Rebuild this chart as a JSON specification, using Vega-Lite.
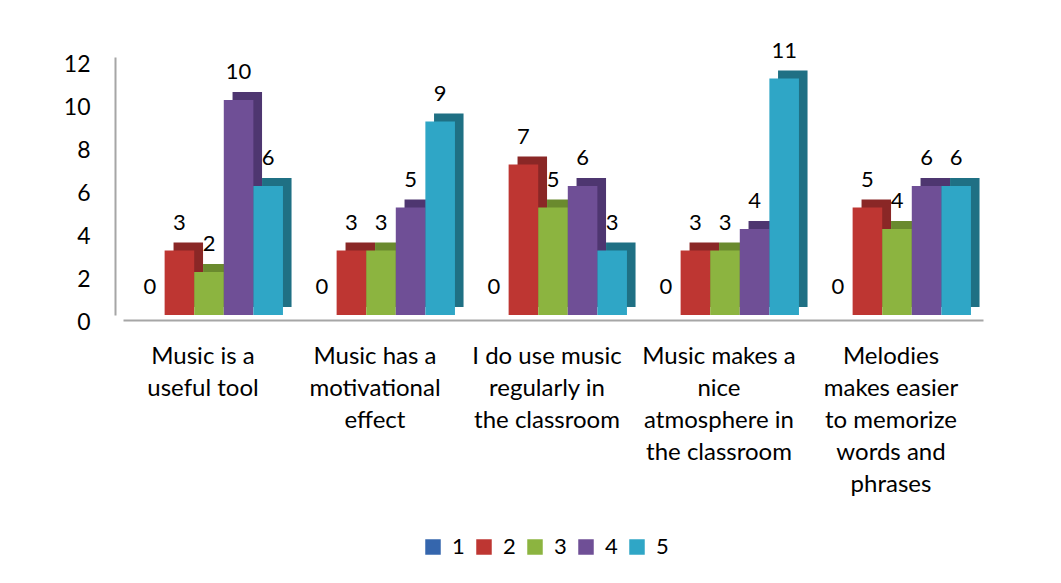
{
  "$schema": "https://vega.github.io/schema/vega-lite/v6.json",
  "autosize": "none",
  "width": 860,
  "height": 258,
  "padding": {"left": 123, "top": 57, "right": 78, "bottom": 268},
  "background": "white",
  "config": {
    "view": {"stroke": null},
    "font": "Lato",
    "axis": {"labelFont": "Lato", "labelColor": "black", "grid": false, "ticks": false, "domainColor": "#A6A6A6", "domainWidth": 2}
  },
  "data": {
    "values": [
      {"cat": "Music is a|useful tool", "series": "1", "value": 0},
      {"cat": "Music is a|useful tool", "series": "2", "value": 3},
      {"cat": "Music is a|useful tool", "series": "3", "value": 2},
      {"cat": "Music is a|useful tool", "series": "4", "value": 10},
      {"cat": "Music is a|useful tool", "series": "5", "value": 6},
      {"cat": "Music has a|motivational|effect", "series": "1", "value": 0},
      {"cat": "Music has a|motivational|effect", "series": "2", "value": 3},
      {"cat": "Music has a|motivational|effect", "series": "3", "value": 3},
      {"cat": "Music has a|motivational|effect", "series": "4", "value": 5},
      {"cat": "Music has a|motivational|effect", "series": "5", "value": 9},
      {"cat": "I do use music|regularly in|the classroom", "series": "1", "value": 0},
      {"cat": "I do use music|regularly in|the classroom", "series": "2", "value": 7},
      {"cat": "I do use music|regularly in|the classroom", "series": "3", "value": 5},
      {"cat": "I do use music|regularly in|the classroom", "series": "4", "value": 6},
      {"cat": "I do use music|regularly in|the classroom", "series": "5", "value": 3},
      {"cat": "Music makes a|nice|atmosphere in|the classroom", "series": "1", "value": 0},
      {"cat": "Music makes a|nice|atmosphere in|the classroom", "series": "2", "value": 3},
      {"cat": "Music makes a|nice|atmosphere in|the classroom", "series": "3", "value": 3},
      {"cat": "Music makes a|nice|atmosphere in|the classroom", "series": "4", "value": 4},
      {"cat": "Music makes a|nice|atmosphere in|the classroom", "series": "5", "value": 11},
      {"cat": "Melodies|makes easier|to memorize|words and|phrases", "series": "1", "value": 0},
      {"cat": "Melodies|makes easier|to memorize|words and|phrases", "series": "2", "value": 5},
      {"cat": "Melodies|makes easier|to memorize|words and|phrases", "series": "3", "value": 4},
      {"cat": "Melodies|makes easier|to memorize|words and|phrases", "series": "4", "value": 6},
      {"cat": "Melodies|makes easier|to memorize|words and|phrases", "series": "5", "value": 6}
    ]
  },
  "encoding": {
    "x": {
      "field": "cat", "type": "nominal", "sort": null, "title": null,
      "scale": {"paddingInner": 0.14, "paddingOuter": 0.07},
      "axis": {"labelAngle": 0, "labelFontSize": 24, "labelLineHeight": 32, "labelPadding": 24, "offset": 5, "labelOffset": -6,
               "labelExpr": "split(datum.value, '|')", "labelBaseline": "top", "labelLimit": 300}
    },
    "y": {
      "field": "value", "type": "quantitative", "title": null,
      "scale": {"domain": [0, 12], "nice": false},
      "axis": {"values": [0, 2, 4, 6, 8, 10, 12], "labelFontSize": 23, "offset": 8, "labelPadding": 25, "labelOffset": 7}
    }
  },
  "layer": [
    {
      "mark": {"type": "bar", "yOffset": -8, "y2Offset": -8},
      "encoding": {
        "xOffset": {"field": "series", "type": "nominal", "scale": {"range": [9, 156.5], "paddingInner": 0, "paddingOuter": 0}},
        "color": {
          "field": "series", "type": "nominal", "legend": null,
          "scale": {"domain": ["1", "2", "3", "4", "5"], "range": ["#1F3F6B", "#8A2726", "#6A8A2E", "#4E3670", "#1F7084"]}
        }
      }
    },
    {
      "mark": {"type": "bar"},
      "encoding": {
        "xOffset": {"field": "series", "type": "nominal", "scale": {"paddingInner": 0, "paddingOuter": 0}},
        "color": {
          "field": "series", "type": "nominal", "title": null,
          "scale": {"domain": ["1", "2", "3", "4", "5"], "range": ["#3566AD", "#BE3632", "#8CB440", "#6F4F96", "#2FA6C6"]},
          "legend": {
            "orient": "none", "legendX": 299, "legendY": 479, "direction": "horizontal",
            "symbolType": "square", "symbolSize": 240, "symbolStrokeWidth": 0,
            "labelFontSize": 22, "labelFont": "Lato", "labelColor": "black", "labelOffset": 8,
            "columnPadding": 8, "padding": 0
          }
        }
      }
    },
    {
      "mark": {"type": "text", "fontSize": 22, "font": "Lato", "baseline": "bottom", "dy": -16, "color": "black"},
      "encoding": {
        "xOffset": {"field": "series", "type": "nominal", "scale": {"type": "band", "paddingInner": 0, "paddingOuter": 0}},
        "text": {"field": "value", "type": "quantitative"}
      }
    }
  ],
  "resolve": {"scale": {"color": "independent", "xOffset": "independent"}}
}
